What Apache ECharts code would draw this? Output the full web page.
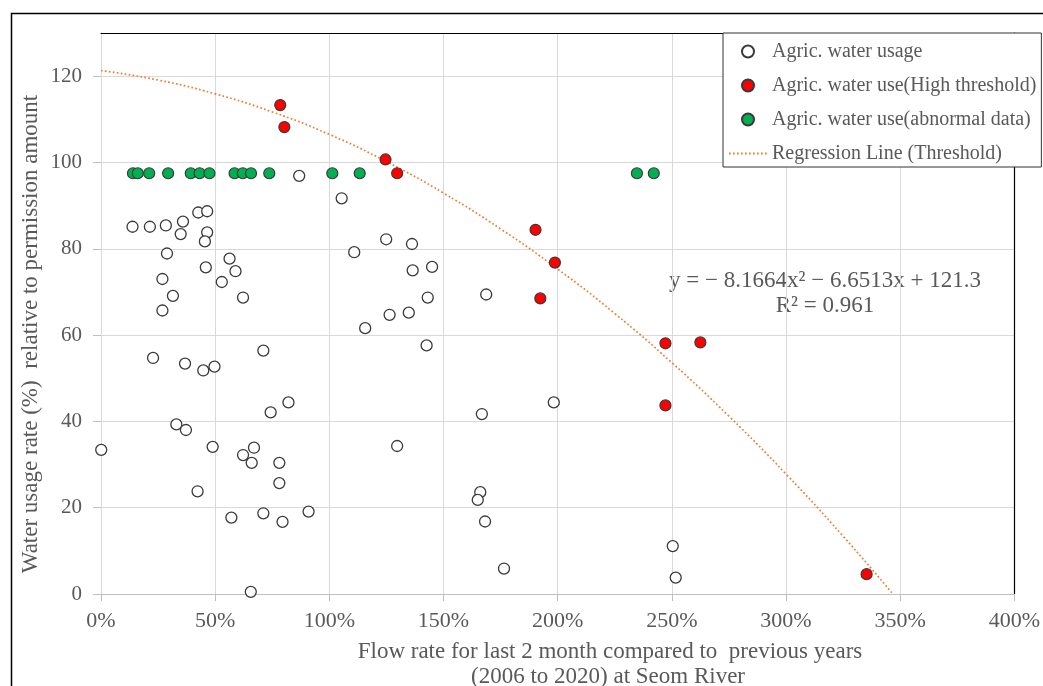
<!DOCTYPE html>
<html>
<head>
<meta charset="utf-8">
<script src="https://cdn.jsdelivr.net/npm/echarts@6/dist/echarts.min.js"></script>
<style>html,body{margin:0;padding:0;background:#fff;overflow:hidden;}#chart{width:1043px;height:686px;}</style>
</head>
<body>
<div id="chart"></div>
<script>
// ---- Data (x as ratio: 1 = 100%, y in %) ----
const usagePoints = [
  [0.868,96.9],[1.054,91.7],[0.138,85.1],[0.214,85.1],[0.284,85.4],[0.359,86.3],[0.349,83.4],
  [0.426,88.4],[0.465,88.7],[0.465,83.8],[0.455,81.7],[0.289,78.9],[0.563,77.7],[0.589,74.8],
  [0.459,75.7],[0.529,72.3],[0.269,73.0],[0.315,69.1],[0.622,68.7],[0.269,65.7],[1.249,82.2],
  [1.362,81.1],[1.109,79.2],[1.365,75.0],[1.450,75.8],[1.431,68.7],[1.687,69.4],[1.264,64.7],
  [1.348,65.2],[1.157,61.6],[1.426,57.6],[0.711,56.4],[0.228,54.7],[0.368,53.4],[0.448,51.8],
  [0.497,52.7],[0.821,44.4],[0.743,42.1],[1.668,41.7],[1.983,44.4],[0.330,39.3],[0.372,38.0],
  [0.001,33.4],[0.489,34.1],[0.670,33.9],[1.297,34.3],[0.622,32.2],[0.660,30.4],[0.781,30.4],
  [0.781,25.7],[0.423,23.8],[1.661,23.6],[1.650,21.8],[1.682,16.8],[0.571,17.7],[0.711,18.7],
  [0.795,16.7],[0.909,19.1],[1.765,5.9],[2.504,11.1],[2.517,3.8],[0.656,0.5]
];
const highPoints = [
  [0.785,113.3],[0.803,108.2],[1.246,100.7],[1.297,97.5],[1.903,84.4],[1.988,76.8],
  [1.924,68.5],[2.472,58.1],[2.625,58.3],[2.472,43.7],[3.353,4.6]
];
const abnormalPoints = [
  [0.140,97.5],[0.161,97.5],[0.211,97.5],[0.294,97.5],[0.393,97.5],[0.432,97.5],[0.475,97.5],
  [0.585,97.5],[0.621,97.5],[0.657,97.5],[0.737,97.5],[1.013,97.5],[1.133,97.5],[2.347,97.5],[2.421,97.5]
];
// regression trendline
const regressionPoints = [
  [0,121.3],[0.25,119.1],[0.5,115.9],[0.75,111.7],[1.0,106.5],[1.25,100.2],[1.5,92.9],
  [1.75,84.6],[2.0,75.3],[2.25,65.0],[2.5,53.6],[2.75,41.2],[3.0,27.8],[3.25,13.4],[3.468,0]
];
const seriesNames = ['Agric. water usage','Agric. water use(High threshold)','Agric. water use(abnormal data)','Regression Line (Threshold)'];
const yTicks = [0,20,40,60,80,100,120];
const equationText = 'y = \u2212 8.1664x\u00B2 \u2212 6.6513x + 121.3';
const r2Text = 'R\u00B2 = 0.961';
const xTitle = ['Flow rate for last 2 month compared to  previous years','(2006 to 2020) at Seom River'];
const yTitle = 'Water usage rate (%)  relative to permission amount';

const FONT = '"Liberation Serif","Times New Roman",serif';
const TXT = '#595959';
const chart = echarts.init(document.getElementById('chart'), null, {renderer:'canvas', width:1043, height:686});
const markerBorder = '#3a3a3a';

chart.setOption({
  animation:false,
  backgroundColor:'#fff',
  grid:{left:101, top:33, width:916, height:561, containLabel:false},
  xAxis:[{
    type:'value', min:0, max:4, interval:0.5,
    axisLine:{show:true, onZero:false, lineStyle:{color:'#bfbfbf', width:1}},
    axisTick:{show:true, length:7, lineStyle:{color:'#bfbfbf'}},
    axisLabel:{margin:16, color:TXT, fontFamily:FONT, fontSize:22,
      formatter:v=>Math.round(v*100)+'%'},
    splitLine:{show:true, lineStyle:{color:'#d9d9d9', width:1}}
  },{
    type:'value', min:0, max:4, position:'top',
    axisLine:{show:true, onZero:false, lineStyle:{color:'#000', width:1.2}},
    axisTick:{show:false}, axisLabel:{show:false}, splitLine:{show:false}
  }],
  yAxis:[{
    type:'value', min:0, max:130, interval:20,
    axisLine:{show:true, onZero:false, lineStyle:{color:'#d9d9d9', width:1}},
    axisTick:{show:true, length:8, lineStyle:{color:'#bfbfbf'}, customValues:yTicks},
    axisLabel:{margin:19, color:TXT, fontFamily:FONT, fontSize:21, customValues:yTicks},
    splitLine:{show:true, lineStyle:{color:'#d9d9d9', width:1}}
  },{
    type:'value', min:0, max:130, position:'right',
    axisLine:{show:true, onZero:false, lineStyle:{color:'#000', width:1.2}},
    axisTick:{show:false}, axisLabel:{show:false}, splitLine:{show:false}
  }],
  legend:{
    orient:'vertical', left:723, top:33,
    padding:[8,5,3,5], itemGap:13, itemWidth:38, itemHeight:12,
    backgroundColor:'#fff', borderColor:'#333', borderWidth:1, borderRadius:0,
    textStyle:{color:TXT, fontFamily:FONT, fontSize:20, lineHeight:21},
    data:[
      {name:seriesNames[0], icon:'circle'},
      {name:seriesNames[1], icon:'circle'},
      {name:seriesNames[2], icon:'circle'},
      {name:seriesNames[3], itemStyle:{opacity:0}}
    ],
    z:10
  },
  graphic:[
    {type:'rect', silent:true, z:-1, shape:{x:11.5, y:13.5, width:1100, height:800},
      style:{fill:'none', stroke:'#000', lineWidth:1.5}},
    {type:'text', x:825, y:281, silent:true,
      style:{text:equationText, fill:TXT, font:'23px '+FONT, textAlign:'center', textVerticalAlign:'middle'}},
    {type:'text', x:825, y:306, silent:true,
      style:{text:r2Text, fill:TXT, font:'23px '+FONT, textAlign:'center', textVerticalAlign:'middle'}},
    {type:'text', x:610, y:652, silent:true,
      style:{text:xTitle[0], fill:TXT, font:'23px '+FONT, textAlign:'center', textVerticalAlign:'middle'}},
    {type:'text', x:608, y:677, silent:true,
      style:{text:xTitle[1], fill:TXT, font:'23px '+FONT, textAlign:'center', textVerticalAlign:'middle'}},
    {type:'text', x:31, y:334, rotation:Math.PI/2, silent:true,
      style:{text:yTitle, fill:TXT, font:'23px '+FONT, textAlign:'center', textVerticalAlign:'middle'}}
  ],
  series:[
    {name:seriesNames[3], type:'line', data:regressionPoints, smooth:true, symbol:'none',
      lineStyle:{color:'#ED7D31', width:1.7, type:[1.7,2.3]}, itemStyle:{color:'#ED7D31'}, z:1},
    {name:seriesNames[0], type:'scatter', data:usagePoints, symbol:'circle', symbolSize:11,
      itemStyle:{color:'#fff', borderColor:markerBorder, borderWidth:1.3, opacity:1}, z:3},
    {name:seriesNames[1], type:'scatter', data:highPoints, symbol:'circle', symbolSize:11,
      itemStyle:{color:'#FF0000', borderColor:markerBorder, borderWidth:1.2, opacity:1}, z:3},
    {name:seriesNames[2], type:'scatter', data:abnormalPoints, symbol:'circle', symbolSize:11,
      itemStyle:{color:'#00B050', borderColor:markerBorder, borderWidth:1.2, opacity:1}, z:3}
  ]
});
</script>
</body>
</html>
